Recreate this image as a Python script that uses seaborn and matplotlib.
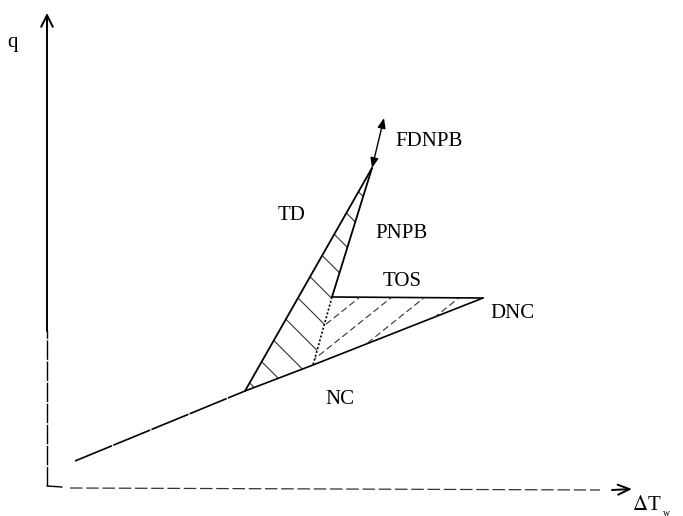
import numpy as np
import pandas as pd
import matplotlib
matplotlib.use('Agg')
import matplotlib.pyplot as plt
from matplotlib.patches import Polygon
import seaborn as sns

sns.set_theme(style='white')
plt.rcParams['font.family'] = ['Liberation Serif', 'DejaVu Serif']
plt.rcParams['hatch.linewidth'] = 0.8

# schematic points, in picture units (x right, y down)
nc_line_x = [75, 245, 313, 483]
nc_line_y = [461, 391, 365, 298]
td_x = [245, 372]
td_y = [391, 168]
pnpb_x = [372, 332]
pnpb_y = [168, 297]
tos_x = [332, 483]
tos_y = [297, 298]
dotted_x = [332, 313]
dotted_y = [297, 365]
fdnpb_arrow = [(372, 168), (384, 118)]

left_zone = [(245, 391), (372, 168), (332, 297), (313, 365)]
right_zone = [(332, 297), (483, 298), (313, 365)]

labels = ['q', 'FDNPB', 'TD', 'PNPB', 'TOS', 'DNC', 'NC']
label_x = [13, 429, 292, 402, 402, 512, 340]
label_y = [42, 142, 216, 233, 281, 313, 400]

fig = plt.figure(figsize=(6.83, 5.16), dpi=100)
ax = fig.add_axes([0, 0, 1, 1])
ax.set_xlim(0, 683)
ax.set_ylim(516, 0)
ax.axis('off')

def seg(x, y, **kw):
    d = pd.DataFrame({'x': x, 'y': y})
    sns.lineplot(data=d, x='x', y='y', sort=False, estimator=None,
                 color='black', ax=ax, **kw)

# axes of the sketch
seg([47, 47], [486, 330], lw=1.0, linestyle=(0, (14, 1.2)))
ax.annotate('', xy=(47, 13), xytext=(47, 331),
            arrowprops=dict(arrowstyle='->,head_length=0.7,head_width=0.35',
                            color='black', lw=1.4, shrinkA=0, shrinkB=0))
seg([47, 62], [486, 487], lw=1.0)
seg([70, 600], [488, 490], lw=0.9, linestyle=(0, (10, 3)), alpha=0.8)
ax.annotate('', xy=(632, 489), xytext=(612, 490),
            arrowprops=dict(arrowstyle='->,head_length=0.7,head_width=0.3',
                            color='black', lw=1.4, shrinkA=0, shrinkB=0))

# boiling curve
seg(nc_line_x[:2], nc_line_y[:2], lw=1.2, linestyle=(0, (24, 0.8)))
seg(nc_line_x[1:], nc_line_y[1:], lw=1.2)
seg(td_x, td_y, lw=1.3)
seg(pnpb_x, pnpb_y, lw=1.3)
seg(tos_x, tos_y, lw=1.2)
seg(dotted_x, dotted_y, lw=1.2, linestyle=(0, (1.2, 1.2)))
ax.annotate('', xy=fdnpb_arrow[1], xytext=fdnpb_arrow[0],
            arrowprops=dict(arrowstyle='<|-|>,head_length=0.5,head_width=0.2',
                            color='black', lw=1.0, shrinkA=0, shrinkB=0))

# hatched zones
ax.add_patch(Polygon(left_zone, closed=True, fill=False, hatch='\\',
                     edgecolor='#333333', linewidth=0))
rz = Polygon(right_zone, closed=True, fill=False, linewidth=0)
ax.add_patch(rz)
for x0 in [360, 392, 425, 460]:
    xs = np.array([x0 - 120, x0 + 20])
    h, = ax.plot(xs, 297 - 0.8 * (xs - x0), color='#333333', lw=0.8,
                 linestyle=(0, (6, 3)))
    h.set_clip_path(rz)

for t, x, y in zip(labels, label_x, label_y):
    ax.text(x, y, t, fontsize=15, ha='center', va='center', color='black')
ax.text(647, 505, r'$\Delta$T', fontsize=15, ha='center', va='center', color='black',
        math_fontfamily='stix')
ax.text(666, 513, 'w', fontsize=7, ha='center', va='center', color='black')

fig.savefig('out.png', dpi=100)
